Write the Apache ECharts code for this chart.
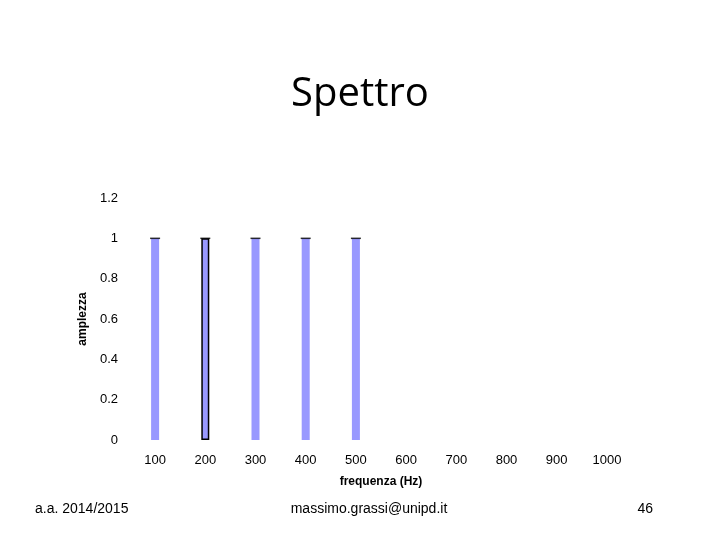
<!DOCTYPE html>
<html>
<head>
<meta charset="utf-8">
<script src="https://cdn.jsdelivr.net/npm/echarts@6/dist/echarts.min.js"></script>
<style>html,body{margin:0;background:#fff}#c{width:720px;height:540px}</style>
</head>
<body>
<div id="c"></div>
<script>
const categories = ['100', '200', '300', '400', '500', '600', '700', '800', '900', '1000'];
const amplitudes = [1, 1, 1, 1, 1, 0, 0, 0, 0, 0];
const yTicks = [0, 0.2, 0.4, 0.6, 0.8, 1, 1.2];

const chart = echarts.init(document.getElementById('c'));
chart.setOption({
  animation: false,
  textStyle: { fontFamily: 'Liberation Sans, Arial, sans-serif' },
  title: [
    { text: 'Spettro', left: 'center', top: 70, textStyle: { fontSize: 40, fontWeight: 'normal', color: '#000', fontFamily: 'Open Sans, sans-serif' } },
    { text: 'a.a. 2014/2015', left: 30, top: 497, textStyle: { fontSize: 14, fontWeight: 'normal', color: '#000' } },
    { text: 'massimo.grassi@unipd.it', left: 364, textAlign: 'center', top: 497, textStyle: { fontSize: 14, fontWeight: 'normal', color: '#000' } },
    { text: '46', right: 62, top: 497, textStyle: { fontSize: 14, fontWeight: 'normal', color: '#000' } }
  ],
  grid: { left: 130, right: 88, top: 198, bottom: 100 },
  xAxis: {
    type: 'category',
    data: categories,
    name: 'frequenza (Hz)',
    nameLocation: 'center',
    nameGap: 36,
    nameTextStyle: { fontWeight: 'bold', fontSize: 12, color: '#000' },
    axisLine: { show: false },
    axisTick: { show: false },
    axisLabel: { color: '#000', fontSize: 13, margin: 14 }
  },
  yAxis: {
    type: 'value',
    min: 0,
    max: 1.2,
    interval: 0.2,
    name: 'amplezza',
    nameLocation: 'center',
    nameGap: 33,
    nameTextStyle: { fontWeight: 'bold', fontSize: 12, color: '#000' },
    splitLine: { show: false },
    axisLine: { show: false },
    axisTick: { show: false },
    axisLabel: { color: '#000', fontSize: 13, margin: 12, formatter: v => yTicks.includes(+v.toFixed(1)) ? String(+v.toFixed(1)) : '' }
  },
  series: [
    {
      type: 'bar',
      data: amplitudes.map((v, i) => i === 1 ? { value: v, itemStyle: { borderColor: '#000', borderWidth: 1.5 } } : v),
      barWidth: 8,
      itemStyle: { color: '#9999ff' }
    },
    {
      type: 'scatter',
      data: amplitudes.map(v => v > 0 ? v : null),
      symbol: 'rect',
      symbolSize: [10, 1.5],
      itemStyle: { color: '#000' }
    }
  ]
});
</script>
</body>
</html>
